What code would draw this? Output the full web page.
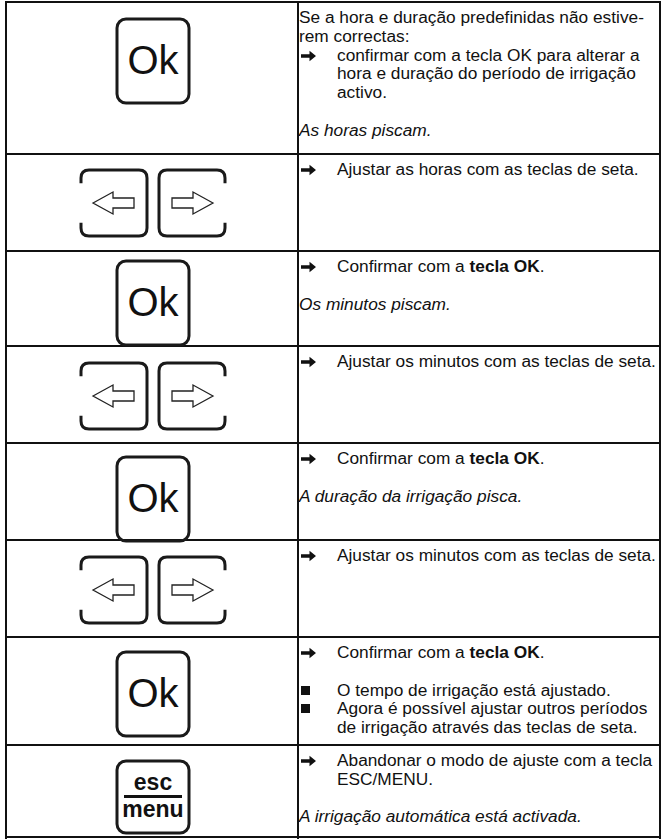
<!DOCTYPE html>
<html><head><meta charset="utf-8">
<script src="https://cdn.jsdelivr.net/npm/chart.js@4/dist/chart.umd.min.js"></script>
<style>
html,body{margin:0;padding:0;background:#fff;width:665px;height:840px;overflow:hidden;}
body{position:relative;font-family:"Liberation Sans",Arial,sans-serif;font-size:17.3px;color:#111;}
.hl{position:absolute;left:5px;width:656px;height:2px;background:#111;}
.vl{position:absolute;top:2px;width:2px;height:837px;background:#111;}
.cell{position:absolute;left:299px;width:362px;line-height:18.8px;}
.ln{position:relative;white-space:nowrap;height:18.8px;}
.ar{position:absolute;left:0;top:0;}
.in{position:absolute;left:38px;}
.it{font-style:italic;}
.key{position:absolute;}
</style></head><body>
<div id="root"></div>
<script>
// ---- content ----
const keyKinds = ['ok','arrows','ok','arrows','ok','arrows','ok','esc'];
const rowTexts = [
  [['t','Se a hora e duração predefinidas não estive-'],['t','rem correctas:'],['a','confirmar com a tecla OK para alterar a'],['c','hora e duração do período de irrigação'],['c','activo.'],['b',''],['i','As horas piscam.']],
  [['a','Ajustar as horas com as teclas de seta.']],
  [['a','Confirmar com a <b>tecla OK</b>.'],['b',''],['i','Os minutos piscam.']],
  [['a','Ajustar os minutos com as teclas de seta.']],
  [['a','Confirmar com a <b>tecla OK</b>.'],['b',''],['i','A duração da irrigação pisca.']],
  [['a','Ajustar os minutos com as teclas de seta.']],
  [['a','Confirmar com a <b>tecla OK</b>.'],['b',''],['s','O tempo de irrigação está ajustado.'],['s','Agora é possível ajustar outros períodos'],['c','de irrigação através das teclas de seta.']],
  [['a','Abandonar o modo de ajuste com a tecla'],['c','ESC/MENU.'],['b',''],['i','A irrigação automática está activada.']]
];
// ---- layout ----
const rowLines = [2,154,251,346,443,540,637,745,837];
const root = document.getElementById('root');
let html = '';
rowLines.forEach(y=>{ html += `<div class="hl" style="top:${y-1}px"></div>`; });
[5,297,659].forEach(x=>{ html += `<div class="vl" style="left:${x}px"></div>`; });
const arrowSvg = '<svg width="16" height="12" viewBox="0 0 16 12" style="position:absolute;left:2px;top:4px"><path d="M0 4.3 H8.5 V0.8 L15 6 L8.5 11.2 V7.7 H0 Z" fill="#111"/></svg>';
const bulletHtml = '<span style="position:absolute;left:2px;top:5px;width:9px;height:9px;background:#111"></span>';
rowTexts.forEach((lines,r)=>{
  let c = `<div class="cell" style="top:${rowLines[r]+6}px">`;
  lines.forEach(([k,t])=>{
    if(k==='t') c += `<div class="ln">${t}</div>`;
    else if(k==='i') c += `<div class="ln it">${t}</div>`;
    else if(k==='b') c += `<div class="ln"></div>`;
    else if(k==='a') c += `<div class="ln">${arrowSvg}<span class="in">${t}</span></div>`;
    else if(k==='s') c += `<div class="ln">${bulletHtml}<span class="in">${t}</span></div>`;
    else c += `<div class="ln"><span class="in">${t}</span></div>`;
  });
  c += '</div>';
  html += c;
});
const cx = 153;
function okKey(top){
  const w=72,h=84;
  return `<svg class="key" style="left:${cx-w/2-2}px;top:${top}px" width="${w+4}" height="${h+4}">
  <rect x="2" y="2" width="${w}" height="${h}" rx="9" fill="none" stroke="#1a1a1a" stroke-width="3"/>
  <text x="${w/2+2}" y="${h/2+15}" text-anchor="middle" font-family="Liberation Sans, Arial" font-size="40" fill="#111">Ok</text></svg>`;
}
function escKey(top){
  const w=72,h=72;
  return `<svg class="key" style="left:${cx-w/2-2}px;top:${top}px" width="${w+4}" height="${h+4}">
  <rect x="2" y="2" width="${w}" height="${h}" rx="9" fill="none" stroke="#1a1a1a" stroke-width="3"/>
  <text x="${w/2+2}" y="31" text-anchor="middle" font-family="Liberation Sans, Arial" font-weight="bold" font-size="23" fill="#111">esc</text>
  <rect x="9" y="36" width="${w-14}" height="3" fill="#111"/>
  <text x="${w/2+2}" y="58" text-anchor="middle" font-family="Liberation Sans, Arial" font-weight="bold" font-size="23" fill="#111">menu</text></svg>`;
}
function arrowKeys(top){
  const w=66,h=66,gap=12;
  const x0 = cx - w - gap/2;
  const r=8, s=3;
  const L = `M ${2} ${2+h*0.2} V ${2+r} Q 2 2 ${2+r} 2 H ${2+w-r} Q ${2+w} 2 ${2+w} ${2+r} V ${2+h-r} Q ${2+w} ${2+h} ${2+w-r} ${2+h} H ${2+r} Q 2 ${2+h} 2 ${2+h-r} V ${2+h*0.8}`;
  const R = `M ${2+w} ${2+h*0.2} V ${2+r} Q ${2+w} 2 ${2+w-r} 2 H ${2+r} Q 2 2 2 ${2+r} V ${2+h-r} Q 2 ${2+h} ${2+r} ${2+h} H ${2+w-r} Q ${2+w} ${2+h} ${2+w} ${2+h-r} V ${2+h*0.8}`;
  const aL = `M 14 35 L 34 24 V 30 H 55 V 40 H 34 V 46 Z`;
  const aR = `M 56 35 L 36 24 V 30 H 15 V 40 H 36 V 46 Z`;
  return `<svg class="key" style="left:${x0-2}px;top:${top}px" width="${w+4}" height="${h+4}">
   <path d="${L}" fill="none" stroke="#1a1a1a" stroke-width="${s}"/>
   <path d="${aL}" fill="#fff" stroke="#222" stroke-width="1.3" stroke-linejoin="miter"/></svg>
   <svg class="key" style="left:${x0+w+gap-2}px;top:${top}px" width="${w+4}" height="${h+4}">
   <path d="${R}" fill="none" stroke="#1a1a1a" stroke-width="${s}"/>
   <path d="${aR}" fill="#fff" stroke="#222" stroke-width="1.3" stroke-linejoin="miter"/></svg>`;
}
const keyTops = [17,168,259,361,455,555,650,759];
keyKinds.forEach((k,i)=>{
  if(k==='ok') html += okKey(keyTops[i]);
  else if(k==='esc') html += escKey(keyTops[i]);
  else html += arrowKeys(keyTops[i]);
});
root.innerHTML = html;
</script>
</body></html>
